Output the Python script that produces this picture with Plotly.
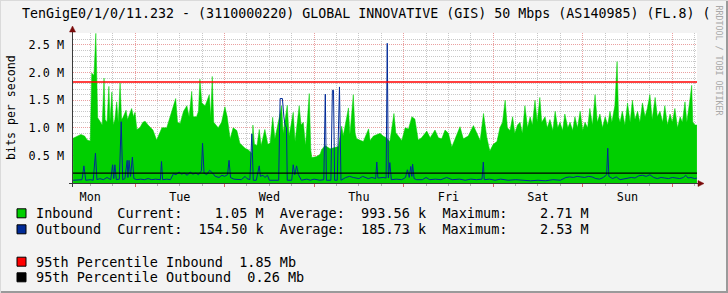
import plotly.graph_objects as go

# ---------------- data (hours since Monday 00:00, values in Mbit/s) ----------------
days = ["Mon", "Tue", "Wed", "Thu", "Fri", "Sat", "Sun"]
y_ticks_m = [0.5, 1.0, 1.5, 2.0, 2.5]
y_tick_labels = ["0.5 M", "1.0 M", "1.5 M", "2.0 M", "2.5 M"]

in_hours = [7.4, 8.5, 9.5, 10.5, 11.2, 12.0, 12.4, 13.0, 13.5, 13.75, 14.0, 14.6, 15.2, 15.7, 16.0, 16.5, 17.0, 17.3, 17.8, 18.2,
            18.6, 19.1, 19.5, 20.0, 20.4, 20.8, 21.6, 22.0, 22.6, 23.1, 23.6, 24.0, 24.5, 25.3, 26.1, 26.7, 27.5, 28.8, 29.8, 30.5,
            31.2, 32.5, 33.4, 34.3, 34.9, 35.4, 36.1, 37.0, 37.9, 38.5, 39.2, 39.6, 40.5, 41.0, 41.4, 41.9, 42.8, 43.9, 44.3, 44.7,
            45.1, 46.3, 47.2, 48.1, 48.7, 49.5, 50.3, 51.3, 52.1, 53.5, 54.4, 55.3, 55.6, 56.0, 56.7, 57.3, 57.8, 58.8, 59.6, 60.2,
            60.9, 61.5, 62.0, 63.3, 63.7, 64.8, 65.3, 66.4, 66.9, 68.0, 68.5, 69.1, 69.7, 70.7, 71.1, 71.4, 72.7, 73.6, 74.0, 74.9,
            76.3, 77.6, 78.5, 79.4, 79.8, 81.2, 81.6, 82.5, 83.0, 83.4, 85.2, 86.1, 86.6, 87.0, 87.9, 89.7, 90.5, 91.3, 92.3, 93.4,
            93.9, 95.5, 96.4, 97.3, 98.2, 99.0, 99.9, 100.8, 102.2, 103.1, 104.4, 105.3, 106.2, 107.1, 108.0, 108.9, 109.8, 111.1, 112.0, 113.3,
            114.7, 115.6, 116.5, 117.4, 118.3, 119.1, 120.0, 121.0, 121.8, 122.5, 123.2, 123.8, 124.5, 125.2, 125.8, 126.5, 127.2, 127.8, 128.5, 129.2,
            129.9, 130.5, 131.2, 131.8, 132.5, 133.0, 133.9, 134.5, 135.2, 136.0, 136.6, 137.3, 137.9, 138.6, 139.2, 140.0, 140.6, 141.3, 141.9, 142.6,
            143.3, 144.0, 144.6, 145.3, 145.9, 146.6, 147.3, 147.9, 148.6, 149.3, 150.0, 150.7, 151.3, 151.8, 152.6, 153.2, 153.6, 154.0, 154.6, 155.3,
            156.0, 156.7, 157.3, 158.0, 158.7, 159.3, 160.0, 160.7, 161.3, 162.0, 162.6, 163.4, 164.0, 164.7, 165.4, 166.0, 166.7, 167.4, 168.0, 168.7,
            169.4, 170.1, 170.7, 171.4, 171.9, 172.7, 173.2, 173.5, 174.1, 174.6]
in_mbps = [0.81, 0.85, 0.88, 0.85, 0.78, 0.76, 1.99, 1.95, 2.71, 1.94, 1.18, 1.12, 1.05, 1.90, 1.15, 1.10, 1.75, 1.12, 1.65, 1.05,
           1.15, 1.47, 1.10, 1.81, 1.15, 1.19, 1.32, 1.15, 1.25, 1.35, 1.20, 1.28, 0.97, 1.00, 1.10, 1.12, 1.05, 0.96, 0.78, 0.90,
           1.00, 1.00, 1.20, 1.38, 1.53, 1.10, 1.08, 1.30, 1.40, 1.20, 1.66, 1.20, 1.20, 1.30, 1.88, 1.45, 1.40, 1.60, 1.20, 1.93,
           1.10, 1.00, 1.10, 1.38, 1.20, 0.80, 1.00, 0.95, 0.72, 0.63, 0.60, 0.54, 1.05, 0.70, 0.68, 0.97, 0.68, 0.97, 0.70, 0.72,
           1.19, 0.80, 0.95, 1.40, 0.90, 1.41, 0.85, 1.28, 0.75, 1.40, 1.05, 1.10, 0.68, 1.62, 0.60, 0.46, 0.48, 0.52, 0.60, 0.68,
           0.62, 0.65, 0.66, 1.03, 0.85, 1.36, 0.88, 1.60, 0.90, 0.80, 0.75, 0.90, 0.98, 0.77, 0.85, 0.90, 0.85, 0.82, 0.75, 1.26,
           0.91, 0.77, 1.00, 0.98, 1.20, 1.16, 0.78, 0.82, 0.94, 0.82, 0.96, 0.82, 0.80, 0.96, 0.90, 0.65, 0.80, 1.02, 0.80, 0.85,
           1.04, 0.90, 0.77, 1.26, 0.82, 0.58, 0.70, 0.75, 1.00, 1.10, 1.50, 1.00, 0.95, 1.20, 0.90, 1.05, 1.10, 0.90, 1.40, 1.00,
           1.20, 1.05, 1.50, 1.10, 1.55, 1.10, 1.20, 1.00, 1.15, 0.95, 1.30, 1.00, 1.10, 0.95, 1.25, 1.00, 1.10, 0.95, 1.20, 1.00,
           1.30, 0.95, 1.10, 1.00, 1.35, 1.05, 1.60, 1.10, 1.25, 1.00, 1.20, 1.05, 1.30, 1.10, 1.40, 2.20, 1.20, 1.10, 1.30, 1.05,
           1.45, 1.10, 1.50, 1.15, 1.30, 1.10, 1.45, 1.20, 1.35, 1.60, 1.15, 1.55, 1.20, 1.30, 1.10, 1.40, 1.05, 1.25, 1.10, 1.35,
           1.00, 1.20, 1.10, 1.47, 1.10, 1.50, 1.77, 1.10, 1.05, 1.05]

out_hours = [7.4, 8.5, 9.8, 10.3, 10.8, 12.0, 12.8, 13.4, 13.8, 14.6, 15.5, 16.5, 17.5, 18.0, 18.3, 18.6, 19.0, 19.8, 20.3, 20.7,
             21.3, 21.9, 22.1, 22.4, 22.8, 23.3, 23.7, 24.5, 25.5, 26.5, 27.5, 28.5, 29.5, 30.8, 31.1, 31.4, 32.5, 33.5, 34.3, 35.0,
             35.8, 36.5, 37.2, 38.0, 38.8, 39.5, 40.3, 41.0, 41.8, 42.1, 42.5, 43.2, 44.0, 44.8, 45.5, 46.5, 47.3, 48.0, 48.8, 49.2,
             49.6, 50.5, 51.5, 52.5, 53.5, 54.0, 54.8, 55.3, 55.7, 56.5, 57.3, 57.6, 58.3, 58.8, 59.5, 60.0, 61.5, 62.5, 62.9, 63.5,
             63.9, 64.2, 64.6, 64.8, 66.0, 66.4, 66.8, 67.3, 67.8, 68.2, 68.6, 70.0, 71.0, 72.0, 73.5, 74.6, 75.0, 75.3, 76.5, 76.9,
             77.2, 77.5, 78.2, 78.8, 79.2, 80.5, 81.5, 82.5, 84.0, 85.0, 86.5, 87.5, 88.5, 88.8, 89.1, 90.5, 91.3, 91.6, 91.9, 92.3,
             92.7, 94.0, 95.5, 96.5, 97.0, 97.5, 97.9, 98.2, 98.4, 98.8, 99.5, 101.0, 102.0, 103.0, 104.5, 106.0, 107.5, 109.0, 111.0, 112.5,
             114.0, 115.5, 117.0, 117.35, 117.6, 119.0, 120.5, 122.0, 124.0, 126.0, 128.0, 130.0, 132.0, 134.0, 136.0, 138.0, 139.5, 140.5, 141.5, 142.5,
             143.5, 144.5, 145.5, 146.5, 147.5, 148.5, 149.5, 150.4, 150.7, 151.0, 152.0, 153.0, 154.0, 155.0, 156.0, 157.0, 158.0, 159.0, 160.0, 161.0,
             162.0, 163.0, 164.0, 165.0, 166.0, 167.0, 168.0, 169.0, 170.0, 171.0, 171.6, 172.2, 173.0, 174.0, 174.6]
out_mbps = [0.05, 0.05, 0.06, 0.31, 0.05, 0.06, 0.05, 0.54, 0.06, 0.08, 0.06, 0.10, 0.06, 0.33, 0.08, 0.33, 0.06, 0.07, 1.11, 0.06,
            0.08, 0.41, 0.10, 0.41, 0.12, 0.47, 0.08, 0.06, 0.07, 0.06, 0.08, 0.06, 0.07, 0.06, 0.39, 0.06, 0.07, 0.06, 0.17, 0.15,
            0.20, 0.16, 0.18, 0.14, 0.20, 0.16, 0.18, 0.15, 0.22, 0.72, 0.18, 0.15, 0.23, 0.18, 0.12, 0.10, 0.14, 0.12, 0.15, 0.41,
            0.10, 0.07, 0.06, 0.06, 0.12, 0.08, 0.06, 0.89, 0.05, 0.05, 0.31, 0.12, 0.14, 0.10, 0.14, 0.05, 0.05, 0.05, 1.53, 1.53,
            1.20, 1.05, 1.00, 0.05, 0.05, 0.33, 0.15, 0.31, 0.15, 0.10, 0.05, 0.07, 0.05, 0.07, 0.05, 0.06, 1.61, 0.05, 0.05, 1.68,
            1.68, 0.05, 0.05, 1.74, 0.05, 0.10, 0.12, 0.10, 0.08, 0.12, 0.08, 0.10, 0.08, 0.38, 0.09, 0.10, 0.09, 2.53, 0.09, 0.37,
            0.06, 0.07, 0.06, 0.10, 0.24, 0.10, 0.30, 0.12, 0.34, 0.08, 0.06, 0.06, 0.10, 0.06, 0.07, 0.06, 0.10, 0.06, 0.07, 0.05,
            0.07, 0.06, 0.07, 0.38, 0.06, 0.07, 0.05, 0.07, 0.05, 0.06, 0.05, 0.04, 0.05, 0.04, 0.06, 0.05, 0.10, 0.11, 0.10, 0.12,
            0.11, 0.10, 0.12, 0.11, 0.08, 0.07, 0.10, 0.15, 0.63, 0.12, 0.08, 0.11, 0.06, 0.07, 0.08, 0.10, 0.09, 0.13, 0.14, 0.12,
            0.15, 0.10, 0.08, 0.10, 0.09, 0.08, 0.10, 0.09, 0.08, 0.10, 0.14, 0.09, 0.10, 0.08, 0.09]

p95_in_rule = 1.83   # drawn position of the 95th percentile rules (Mbit/s)
p95_out_rule = 0.18

legend_rows = [
    ("#00CF00", "Inbound   Current:    1.05 M  Average:  993.56 k  Maximum:    2.71 M"),
    ("#002A97", "Outbound  Current:  154.50 k  Average:  185.73 k  Maximum:    2.53 M"),
    ("#FF0000", "95th Percentile Inbound  1.85 Mb"),
    ("#000000", "95th Percentile Outbound  0.26 Mb"),
]
title = "TenGigE0/1/0/11.232 - (3110000220) GLOBAL INNOVATIVE (GIS) 50 Mbps (AS140985) (FL.8) ("

x_start, x_end = 7.38, 174.62
y_max = 2.717

# ---------------- layout geometry ----------------
W, H = 728, 293
PL, PR, PT, PB = 73, 697, 33, 183
MONO = "DejaVu Sans Mono"


def px(x):
    return (x - PL) / (PR - PL)


def py(y):
    return (PB - y) / (PB - PT)


fig = go.Figure()
fig.add_trace(go.Scatter(x=in_hours, y=[v * 1e6 for v in in_mbps], mode="lines",
                         line=dict(color="#00CF00", width=0.5), fill="tozeroy",
                         fillcolor="#00CF00", hoverinfo="skip", showlegend=False))
fig.add_trace(go.Scatter(x=out_hours, y=[v * 1e6 for v in out_mbps], mode="lines", xaxis="x2",
                         line=dict(color="#002A97", width=1), hoverinfo="skip", showlegend=False))

shapes = []
# percentile rules
shapes.append(dict(type="line", xref="paper", yref="y", x0=0, x1=1, y0=p95_in_rule * 1e6, y1=p95_in_rule * 1e6,
                   line=dict(color="#FF0000", width=1.5), layer="above"))
shapes.append(dict(type="line", xref="paper", yref="y", x0=0, x1=1, y0=p95_out_rule * 1e6, y1=p95_out_rule * 1e6,
                   line=dict(color="#000000", width=1.3), layer="above"))
# axes with arrows
axc = "#3A3A3A"
shapes.append(dict(type="line", xref="paper", yref="paper", x0=px(69), x1=px(699), y0=py(183.5), y1=py(183.5),
                   line=dict(color=axc, width=1), layer="above"))
shapes.append(dict(type="line", xref="paper", yref="paper", x0=px(72.5), x1=px(72.5), y0=py(187), y1=py(30),
                   line=dict(color=axc, width=1), layer="above"))
arrow_c = "#7A0A0A"
shapes.append(dict(type="path", xref="paper", yref="paper", layer="above", fillcolor=arrow_c,
                   line=dict(color=arrow_c, width=0.5),
                   path=f"M {px(698)},{py(180.5)} L {px(704)},{py(183.5)} L {px(698)},{py(186.5)} Z"))
shapes.append(dict(type="path", xref="paper", yref="paper", layer="above", fillcolor=arrow_c,
                   line=dict(color=arrow_c, width=0.5),
                   path=f"M {px(69.5)},{py(32)} L {px(72.5)},{py(26)} L {px(75.5)},{py(32)} Z"))
# outer 3D frame
shapes.append(dict(type="line", xref="paper", yref="paper", x0=px(727), x1=px(727), y0=py(0), y1=py(293),
                   line=dict(color="#9A9A9A", width=2), layer="above"))
shapes.append(dict(type="line", xref="paper", yref="paper", x0=px(0), x1=px(728), y0=py(292), y1=py(292),
                   line=dict(color="#9A9A9A", width=2), layer="above"))
shapes.append(dict(type="line", xref="paper", yref="paper", x0=px(0.5), x1=px(0.5), y0=py(0), y1=py(293),
                   line=dict(color="#DADADA", width=1), layer="above"))
shapes.append(dict(type="line", xref="paper", yref="paper", x0=px(0), x1=px(728), y0=py(0.5), y1=py(0.5),
                   line=dict(color="#DADADA", width=1), layer="above"))

annotations = []
annotations.append(dict(text=title, xref="paper", yref="paper", x=px(19.5), y=py(13.5), xanchor="left",
                        yanchor="middle", showarrow=False, font=dict(family=MONO, size=13.3, color="#000000")))
annotations.append(dict(text="bits per second", xref="paper", yref="paper", x=px(11), y=py(108), textangle=-90,
                        xanchor="center", yanchor="middle", showarrow=False,
                        font=dict(family=MONO, size=11.6, color="#000000")))
annotations.append(dict(text="RRDTOOL / TOBI OETIKER", xref="paper", yref="paper", x=px(718.5), y=py(60), textangle=90,
                        xanchor="center", yanchor="middle", showarrow=False,
                        font=dict(family=MONO, size=8.3, color="#A8A8A8")))

row_y = [213.3, 229.3, 261.7, 277.3]
for (col, txt), yy in zip(legend_rows, row_y):
    shapes.append(dict(type="rect", xref="paper", yref="paper", x0=px(17), x1=px(26), y0=py(yy - 4.5), y1=py(yy + 4.5),
                       fillcolor=col, line=dict(color="#000000", width=1), layer="above"))
    annotations.append(dict(text=txt.replace(" ", "\u00a0"), xref="paper", yref="paper", x=px(34), y=py(yy),
                            xanchor="left", yanchor="middle", showarrow=False,
                            font=dict(family=MONO, size=13.5, color="#000000")))

fig.update_layout(
    width=W, height=H,
    margin=dict(l=PL, r=W - PR, t=PT, b=H - PB, pad=0),
    paper_bgcolor="#F3F3F3", plot_bgcolor="#FFFFFF",
    showlegend=False,
    shapes=shapes, annotations=annotations,
    xaxis=dict(range=[x_start, x_end], tickmode="array", tickvals=[24 * i for i in range(1, 8)],
               showticklabels=False, showgrid=True, gridcolor="#EAA0A0", griddash="1px,1px", gridwidth=1,
               ticks="outside", ticklen=3, tickcolor="#E06060", zeroline=False, showline=False,
               minor=dict(dtick=6, tick0=0, showgrid=True, gridcolor="#C8C8C8", griddash="1px,1px",
                          ticks="outside", ticklen=2, tickcolor="#B0B0B0")),
    xaxis2=dict(range=[x_start, x_end], overlaying="x", side="bottom", tickmode="array",
                tickvals=[12 + 24 * i for i in range(7)], ticktext=days, showgrid=False, zeroline=False,
                showline=False, ticks="", ticklabelstandoff=5,
                tickfont=dict(family=MONO, size=11.8, color="#000000")),
    yaxis=dict(range=[0, y_max * 1e6], tickmode="array", tickvals=[v * 1e6 for v in y_ticks_m],
               ticktext=y_tick_labels, showgrid=True, gridcolor="#EAA0A0", griddash="1px,1px", gridwidth=1,
               zeroline=False, showline=False, ticks="", ticklabelstandoff=8,
               tickfont=dict(family=MONO, size=11.8, color="#000000"),
               minor=dict(dtick=1e5, tick0=0, showgrid=True, gridcolor="#C8C8C8", griddash="1px,1px")),
)

fig.write_html("out.html")
